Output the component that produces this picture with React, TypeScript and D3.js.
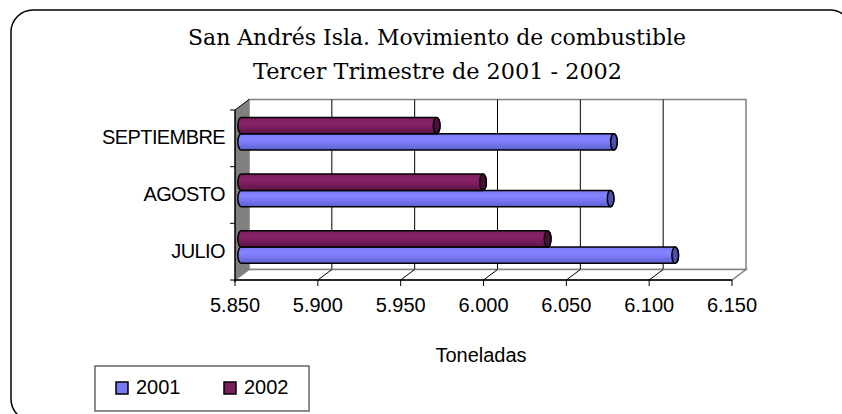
import React from "react";
import * as d3 from "d3";

const categories = ["JULIO", "AGOSTO", "SEPTIEMBRE"];
const series2001 = [6112, 6073, 6075];
const series2002 = [6035, 5996, 5968];
const seriesNames = ["2001", "2002"];
const xTicks = [5850, 5900, 5950, 6000, 6050, 6100, 6150];
const titleLines = ["San Andrés Isla. Movimiento de combustible", "Tercer Trimestre de 2001 - 2002"];
const axisTitle = "Toneladas";

const W = 842;
const H = 414;

export default function App() {
  // front plane of the 3D plot
  const fx0 = 235, fx1 = 732, fy0 = 110, fy1 = 280;
  const DX = 14, DY = -10.5; // depth vector
  const bf = 0.44; // bar plane depth fraction
  const bdx = DX * bf, bdy = DY * bf;

  const x = d3.scaleLinear().domain([5850, 6150]).range([fx0, fx1]);
  const y = d3.scaleBand<string>().domain(categories).range([fy1, fy0]).paddingInner(0.425).paddingOuter(0.2125);
  const yInner = d3.scaleBand<string>().domain(["2002", "2001"]).range([0, y.bandwidth()]);
  const yCat = d3.scaleBand<string>().domain(categories).range([fy1, fy0]);

  const loc = d3.formatLocale({ decimal: ",", thousands: ".", grouping: [3], currency: ["$", ""] });
  const fmt = loc.format(",.0f");

  const colors: Record<string, { grad: string; cap: string; light: string; base: string; dark: string }> = {
    "2001": { grad: "g2001", cap: "#4f4fae", light: "#8585ff", base: "#7878f2", dark: "#5c5cd0" },
    "2002": { grad: "g2002", cap: "#4a0f38", light: "#882268", base: "#7a1d5c", dark: "#5c1446" },
  };
  const dataBy: Record<string, number[]> = { "2001": series2001, "2002": series2002 };

  const rx = 3.3;

  const bars: React.ReactNode[] = [];
  categories.forEach((c, i) => {
    seriesNames.forEach((s) => {
      const v = dataBy[s][i];
      const y0 = (y(c) as number) + (yInner(s) as number) + bdy;
      const y1 = y0 + yInner.bandwidth();
      const ry = (y1 - y0) / 2;
      const x0 = x(5850) + bdx;
      const x1 = x(v) + bdx;
      const col = colors[s];
      const path = `M${x0},${y0} L${x1},${y0} A${rx},${ry} 0 0 1 ${x1},${y1} L${x0},${y1} A${rx},${ry} 0 0 1 ${x0},${y0} Z`;
      bars.push(
        <g key={c + s}>
          <path d={path} fill={`url(#${col.grad})`} stroke="#000" strokeWidth={1.5} />
          <ellipse cx={x1} cy={(y0 + y1) / 2} rx={rx} ry={ry} fill={col.cap} stroke="#000" strokeWidth={1.5} />
        </g>
      );
    });
  });

  const sansFont = "'Liberation Sans', Arial, sans-serif";

  return (
    <svg width={W} height={H} style={{ position: "absolute", left: 0, top: 0, background: "#fff" }}>
      <defs>
        {seriesNames.map((s) => (
          <linearGradient key={s} id={colors[s].grad} x1="0" y1="0" x2="0" y2="1">
            <stop offset="0" stopColor={colors[s].base} />
            <stop offset="0.35" stopColor={colors[s].light} />
            <stop offset="0.6" stopColor={colors[s].base} />
            <stop offset="1" stopColor={colors[s].dark} />
          </linearGradient>
        ))}
      </defs>
      {/* frame */}
      <rect x={11} y={10} width={841} height={411} rx={22} ry={22} fill="#fff" stroke="#000" strokeWidth={1.5} />

      {/* title */}
      {titleLines.map((t, i) => (
        <text
          key={i}
          x={i === 0 ? 188 : 253}
          y={i === 0 ? 45 : 79}
          textLength={i === 0 ? 498 : 369}
          lengthAdjust="spacingAndGlyphs"
          fontFamily="'DejaVu Serif', serif"
          fontSize={22}
          fill="#000"
        >
          {t}
        </text>
      ))}

      {/* back wall */}
      <rect x={fx0 + DX} y={fy0 + DY} width={fx1 - fx0} height={fy1 - fy0} fill="#fff" stroke="#808080" strokeWidth={1.5} />
      {/* back wall gridlines */}
      {xTicks.slice(1, -1).map((t) => (
        <line key={t} x1={x(t) + DX} x2={x(t) + DX} y1={fy0 + DY} y2={fy1 + DY} stroke="#000" strokeWidth={1} />
      ))}
      {/* floor */}
      <polygon
        points={`${fx0},${fy1} ${fx0 + DX},${fy1 + DY} ${fx1 + DX},${fy1 + DY} ${fx1},${fy1}`}
        fill="#fff"
        stroke="#808080"
        strokeWidth={1.5}
      />
      {xTicks.slice(1, -1).map((t) => (
        <line key={"f" + t} x1={x(t)} x2={x(t) + DX} y1={fy1} y2={fy1 + DY} stroke="#000" strokeWidth={1} />
      ))}
      {/* left wall */}
      <polygon
        points={`${fx0},${fy0} ${fx0 + DX},${fy0 + DY} ${fx0 + DX},${fy1 + DY} ${fx0},${fy1}`}
        fill="#808080"
        stroke="none"
      />
      <line x1={fx0} y1={fy0} x2={fx0 + DX} y2={fy0 + DY} stroke="#000" strokeWidth={1} />

      {bars}

      {/* axes */}
      <line x1={fx0} y1={fy0} x2={fx0} y2={fy1 + 2} stroke="#000" strokeWidth={1.5} />
      <line x1={fx0} y1={fy1} x2={fx1} y2={fy1} stroke="#000" strokeWidth={1.5} />
      {categories.map((c) => (
        <line key={"yt" + c} x1={fx0 - 5} x2={fx0} y1={yCat(c) as number} y2={yCat(c) as number} stroke="#000" strokeWidth={1} />
      ))}
      <line x1={fx0 - 5} x2={fx0} y1={fy1} y2={fy1} stroke="#000" strokeWidth={1} />
      {xTicks.map((t) => (
        <g key={"xt" + t}>
          <line x1={x(t)} x2={x(t)} y1={fy1} y2={fy1 + 6} stroke="#000" strokeWidth={1} />
          <text x={x(t)} y={312} textAnchor="middle" fontFamily={sansFont} fontSize={20} fill="#000">
            {fmt(t)}
          </text>
        </g>
      ))}
      {categories.map((c) => (
        <text
          key={"yl" + c}
          x={225}
          y={(yCat(c) as number) + yCat.bandwidth() / 2 + 6}
          textAnchor="end"
          fontFamily={sansFont}
          fontSize={20}
          letterSpacing={-0.6}
          fill="#000"
        >
          {c}
        </text>
      ))}
      <text x={481} y={362} textAnchor="middle" fontFamily={sansFont} fontSize={20} fill="#000">
        {axisTitle}
      </text>

      {/* legend */}
      <rect x={95} y={366} width={214} height={45} fill="#fff" stroke="#666" strokeWidth={1.5} />
      {seriesNames.map((s, i) => (
        <g key={"lg" + s} transform={`translate(${116 + i * 108},382)`}>
          <rect x={0} y={0} width={12} height={12} fill={colors[s].base} stroke="#000" strokeWidth={1.5} />
          <text x={20} y={12} fontFamily={sansFont} fontSize={20} fill="#000">
            {s}
          </text>
        </g>
      ))}
    </svg>
  );
}
